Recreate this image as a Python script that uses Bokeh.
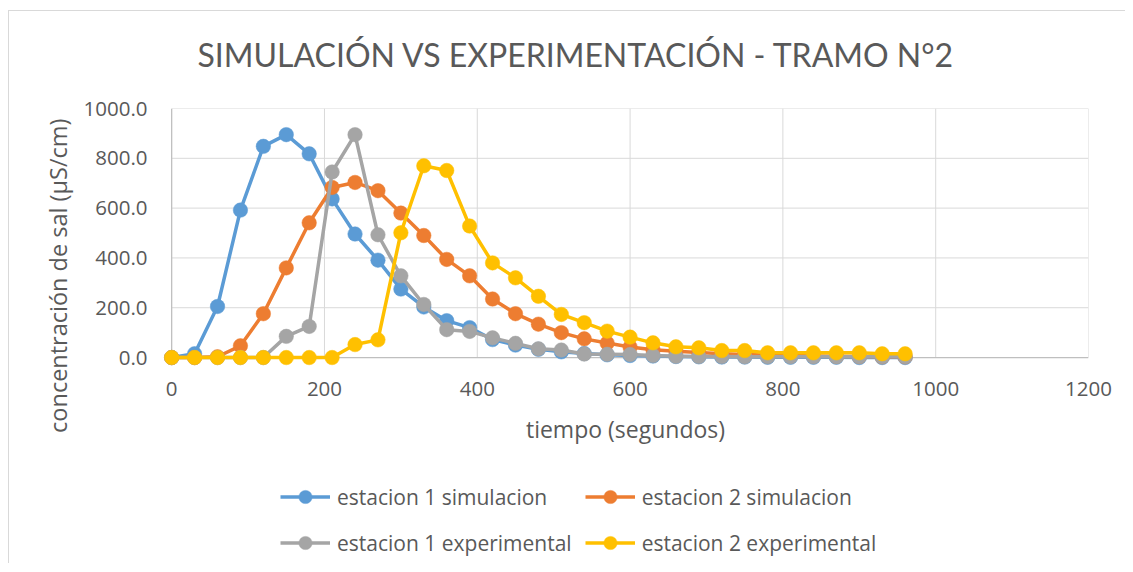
from bokeh.plotting import figure
from bokeh.layouts import column
from bokeh.models import Range1d, FixedTicker, PrintfTickFormatter, Legend, LegendItem, Title
from bokeh.embed import file_html
from bokeh.resources import INLINE

# ---- data ----
tiempo = [0, 30, 60, 90, 120, 150, 180, 210, 240, 270, 300, 330, 360, 390, 420, 450,
          480, 510, 540, 570, 600, 630, 660, 690, 720, 750, 780, 810, 840, 870, 900, 930, 960]
est1_sim = [0, 15, 205, 592, 848, 895, 818, 637, 496, 391, 275, 203, 148, 120, 72, 50,
            33, 23, 16, 11, 8, 6, 4, 3, 2, 2, 1, 1, 1, 1, 0, 0, 0]
est2_sim = [0, 0, 3, 47, 176, 360, 541, 683, 703, 670, 580, 490, 394, 328, 235, 176,
            134, 100, 75, 58, 42, 31, 25, 20, 15, 12, 10, 8, 6, 5, 4, 3, 3]
est1_exp = [0, 0, 0, 0, 0, 85, 125, 745, 895, 493, 328, 213, 112, 105, 79, 57,
            35, 30, 14, 13, 12, 8, 5, 4, 4, 3, 3, 3, 3, 3, 3, 3, 3]
est2_exp = [0, 0, 0, 0, 0, 0, 0, 0, 52, 71, 501, 770, 751, 528, 380, 320,
            246, 173, 140, 106, 82, 59, 43, 39, 28, 28, 19, 19, 19, 19, 19, 15, 15]

series_names = ["estacion 1 simulacion", "estacion 2 simulacion",
                "estacion 1 experimental", "estacion 2 experimental"]
series_values = [est1_sim, est2_sim, est1_exp, est2_exp]
series_colors = ["#5B9BD5", "#ED7D31", "#A5A5A5", "#FFC000"]

x_ticks = [0, 200, 400, 600, 800, 1000, 1200]
y_ticks = [0, 200, 400, 600, 800, 1000]

title_text = "SIMULACIÓN VS EXPERIMENTACIÓN - TRAMO N°2"
x_label = "tiempo (segundos)"
y_label = "concentración de sal (µS/cm)"

TFONT = "Lato"
FONT = "Open Sans"
TXT = "#595959"

# ---------------- title strip ----------------
pt = figure(width=1116, height=83, title=title_text,
            x_range=Range1d(0, 1), y_range=Range1d(0, 1),
            output_backend="svg", toolbar_location=None, min_border=0,
            x_axis_location=None, y_axis_location=None,
            background_fill_color="white", border_fill_color="white")
pt.outline_line_color = None
pt.grid.visible = False
pt.title.text_font = TFONT
pt.title.text_font_size = "32px"
pt.title.text_font_style = "normal"
pt.title.text_color = TXT
pt.title.align = "left"
pt.title.offset = 35
pt.title.standoff = 42

# ---------------- main chart ----------------
p = figure(width=1116, height=376, title=None,
           x_range=Range1d(-12, x_ticks[-1]), y_range=Range1d(-40, y_ticks[-1]),
           output_backend="svg", toolbar_location=None,
           min_border_left=153, min_border_right=37, min_border_top=14, min_border_bottom=103,
           background_fill_color="white", border_fill_color="white")
p.outline_line_color = None
p.xgrid.visible = False
p.ygrid.visible = False

# y axis title
ytitle = Title(text=y_label, align="right", offset=10, standoff=14,
               text_font=FONT, text_font_size="23.5px", text_font_style="normal",
               text_color=TXT)
p.add_layout(ytitle, "left")

# gridlines (from tick lists)
p.segment(x0=[x_ticks[0]] * len(y_ticks[1:]), x1=[x_ticks[-1]] * len(y_ticks[1:]),
          y0=y_ticks[1:], y1=y_ticks[1:], line_color="#d9d9d9", line_width=1)
p.segment(x0=x_ticks[1:], x1=x_ticks[1:], y0=[y_ticks[0]] * len(x_ticks[1:]),
          y1=[y_ticks[-1]] * len(x_ticks[1:]), line_color="#d9d9d9", line_width=1)
# axis lines
p.segment(x0=[x_ticks[0]], x1=[x_ticks[-1]], y0=[y_ticks[0]], y1=[y_ticks[0]],
          line_color="#bfbfbf", line_width=1.3)
p.segment(x0=[x_ticks[0]], x1=[x_ticks[0]], y0=[y_ticks[0]], y1=[y_ticks[-1]],
          line_color="#bfbfbf", line_width=1.3)

for vals, col in zip(series_values, series_colors):
    p.line(tiempo, vals, line_color=col, line_width=3.5, line_join="round")
    p.scatter(tiempo, vals, size=14.5, fill_color=col, line_color=col, line_width=0.5)

# axes
for ax in (p.xaxis[0], p.yaxis[0]):
    ax.axis_line_color = None
    ax.major_tick_line_color = None
    ax.minor_tick_line_color = None
    ax.major_label_text_font = FONT
    ax.major_label_text_font_size = "20.5px"
    ax.major_label_text_color = TXT
    ax.axis_label_text_font = FONT
    ax.axis_label_text_font_size = "23px"
    ax.axis_label_text_font_style = "normal"
    ax.axis_label_text_color = TXT

p.xaxis.ticker = FixedTicker(ticks=x_ticks)
p.yaxis.ticker = FixedTicker(ticks=y_ticks)
p.yaxis.formatter = PrintfTickFormatter(format="%.1f")
p.xaxis.axis_label = x_label
p.xaxis.major_label_standoff = 8
p.yaxis.major_label_standoff = 9
p.xaxis.axis_label_standoff = 14

# ---------------- legend strip ----------------
# the legend's renderers hold the same series, but this strip's ranges lie far
# away from the data, so only their legend glyphs are seen
pl = figure(width=1116, height=93, x_range=Range1d(5000, 6000), y_range=Range1d(5000, 6000),
            output_backend="svg", toolbar_location=None, min_border=0,
            x_axis_location=None, y_axis_location=None,
            background_fill_color="white", border_fill_color="white")
pl.outline_line_color = None
pl.grid.visible = False

items = []
for name, vals, col in zip(series_names, series_values, series_colors):
    lr = pl.line(tiempo, vals, line_color=col, line_width=3.5)
    sr = pl.scatter(tiempo, vals, size=14.5, fill_color=col, line_color=col, line_width=0.5)
    items.append(LegendItem(label=name, renderers=[lr, sr]))

legend = Legend(items=items, location=(118, 4), orientation="horizontal", ncols=2,
                padding=0, margin=0, spacing=13, glyph_width=50, glyph_height=33,
                label_height=33, label_standoff=7,
                label_text_font=FONT, label_text_font_size="21px", label_text_color=TXT,
                border_line_color=None, background_fill_alpha=0)
pl.add_layout(legend)

lay = column(pt, p, pl, spacing=0)
lay.styles = {"border-top": "1px solid #d9d9d9", "border-left": "1px solid #d9d9d9",
              "position": "relative", "top": "10px", "left": "8px"}

open("out.html", "w").write(file_html(lay, INLINE))
